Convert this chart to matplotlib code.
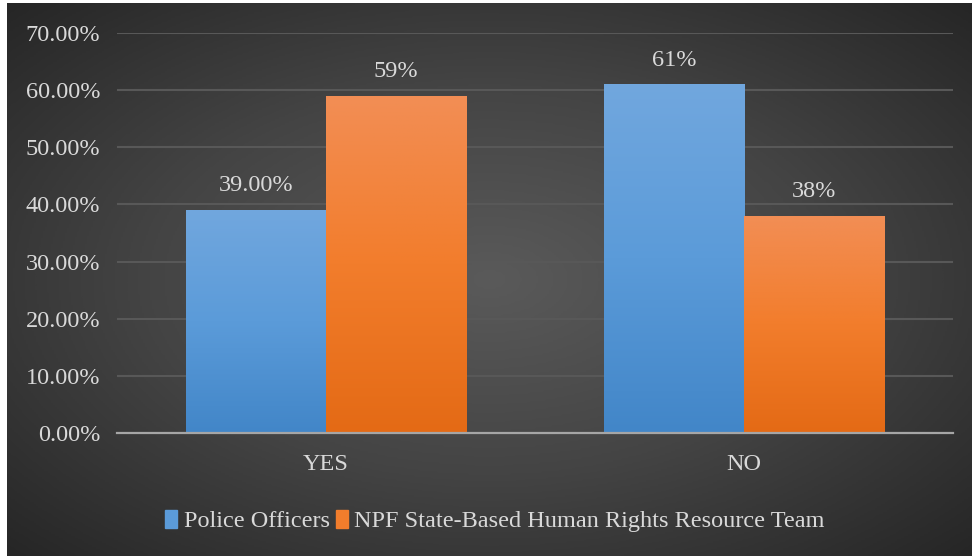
import numpy as np
import matplotlib.pyplot as plt
from matplotlib.colors import LinearSegmentedColormap

# --- données ---
categories = ["YES", "NO"]
police = [39.0, 61.0]
npf = [59.0, 38.0]
police_labels = ["39.00%", "61%"]
npf_labels = ["59%", "38%"]
series_names = ["Police Officers", "NPF State-Based Human Rights Resource Team"]
yticks = [0, 10, 20, 30, 40, 50, 60, 70]

W, H = 974, 556
FS = 17.5
fig = plt.figure(figsize=(W / 100, H / 100), dpi=100)
fig.patch.set_facecolor("white")
plt.rcParams["font.family"] = ["Liberation Serif", "DejaVu Serif"]

# --- fond : dégradé radial ---
bg = fig.add_axes([7 / W, 0, 965 / W, 553 / H])
bg.set_axis_off()
yy, xx = np.mgrid[-1:1:300j, -1:1:500j]
r = np.sqrt(xx ** 2 + yy ** 2) / np.sqrt(2)
bg_cmap = LinearSegmentedColormap.from_list("bg", ["#5a5a5a", "#444444", "#262626"])
bg.imshow(r, cmap=bg_cmap, aspect="auto", extent=[0, 1, 0, 1], vmin=0, vmax=1)
bg.set_xlim(0, 1)
bg.set_ylim(0, 1)

# --- zone de tracé ---
ax = fig.add_axes([117 / W, (H - 433) / H, (953 - 117) / W, 400 / H])
ax.patch.set_alpha(0)
x = np.arange(len(categories))
width = 0.335

blue_cmap = LinearSegmentedColormap.from_list("b", ["#4286c8", "#5b9bd9", "#71a7de"])
orange_cmap = LinearSegmentedColormap.from_list("o", ["#e46a15", "#f27d2c", "#f28e55"])
grad = np.linspace(0, 1, 256).reshape(-1, 1)

def draw_bars(pos, vals, cmap, labels):
    bars = ax.bar(pos, vals, width, color="none", edgecolor="none", zorder=3)
    for b, lab in zip(bars, labels):
        x0, y0 = b.get_x(), b.get_y()
        im = ax.imshow(grad, cmap=cmap, origin="lower", aspect="auto",
                       extent=[x0, x0 + b.get_width(), y0, y0 + b.get_height()],
                       zorder=3)
        im.set_clip_path(b)
        ax.annotate(lab, (x0 + b.get_width() / 2, y0 + b.get_height()),
                    xytext=(0, 10), textcoords="offset points",
                    ha="center", va="bottom", fontsize=FS, color="#d9d9d9")
    return bars

draw_bars(x - width / 2, police, blue_cmap, police_labels)
draw_bars(x + width / 2, npf, orange_cmap, npf_labels)

ax.set_xlim(-0.5, 1.5)
ax.set_ylim(0, 70)
ax.set_yticks(yticks)
ax.set_yticklabels([f"{v:.2f}%" for v in yticks])
ax.set_xticks(x)
ax.set_xticklabels(categories)
ax.tick_params(axis="both", length=0, labelsize=FS, colors="#d9d9d9")
ax.tick_params(axis="y", pad=12)
ax.tick_params(axis="x", pad=15)
ax.grid(axis="y", color="#585858", linewidth=1.5, zorder=1)
ax.set_axisbelow(True)
for s in ["top", "right", "left"]:
    ax.spines[s].set_visible(False)
ax.spines["bottom"].set_color("#a6a6a6")
ax.spines["bottom"].set_linewidth(1.6)
ax.spines["bottom"].set_zorder(4)

# --- légende ---
handles = [plt.Rectangle((0, 0), 1, 1, color="#5b9bd9"),
           plt.Rectangle((0, 0), 1, 1, color="#f27d2c")]
fig.legend(handles, series_names, loc="center", bbox_to_anchor=(0.508, (H - 521) / H),
           ncol=2, frameon=False, fontsize=FS, labelcolor="#d9d9d9",
           handlelength=0.5, handleheight=0.8, handletextpad=0.25, columnspacing=0.25)

fig.savefig("out.png", dpi=100)
